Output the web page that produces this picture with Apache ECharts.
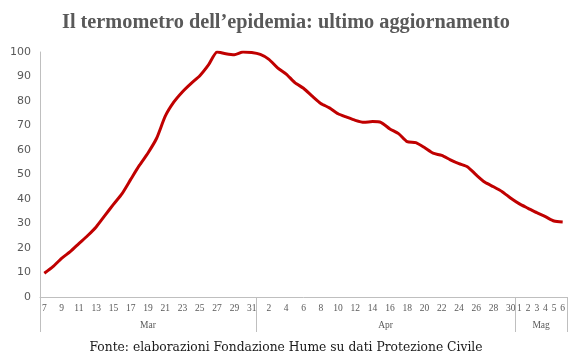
<!DOCTYPE html>
<html>
<head>
<meta charset="utf-8">
<script src="https://cdn.jsdelivr.net/npm/echarts@6/dist/echarts.min.js"></script>
<style>html,body{margin:0;padding:0;background:#fff;}#c{width:572px;height:362px;}</style>
</head>
<body>
<div id="c"></div>
<script>
const dayLabels = ["7","8","9","10","11","12","13","14","15","16","17","18","19","20","21","22","23","24","25","26","27","28","29","30","31",
"1","2","3","4","5","6","7","8","9","10","11","12","13","14","15","16","17","18","19","20","21","22","23","24","25","26","27","28","29","30",
"1","2","3","4","5","6"];
const months = ["Mar","Apr","Mag"];
const monthStart = [0, 25, 55, 61];
const monthMid = [12.5, 40, 58];
const values = [9.7,12.4,15.8,18.5,21.8,25,28.6,33.2,37.8,42.2,48,53.7,58.8,64.8,73.8,79.6,83.8,87.2,90.3,94.7,
100,99.3,98.9,100,99.8,99,97,93.5,91,87.5,85.2,82,79,77.2,74.8,73.4,72.1,71.3,71.6,71.2,
68.6,66.7,63.4,63,61,58.7,57.8,56,54.4,53.1,49.8,46.8,45,43,40.3,38,36.2,34.4,32.8,31,30.6];
const yTicks = [0,10,20,30,40,50,60,70,80,90,100];

const chart = echarts.init(document.getElementById('c'));
chart.setOption({
  animation:false,
  title:[{
    text:"Il termometro dell\u2019epidemia: ultimo aggiornamento",
    left:'center', top:8,
    textStyle:{fontFamily:'Liberation Serif', fontSize:20.3, fontWeight:'bold', color:'#595959'}
  },{
    text:"Fonte: elaborazioni Fondazione Hume su dati Protezione Civile",
    left:'center', top:337,
    textStyle:{fontFamily:'DejaVu Serif', fontSize:12.3, fontWeight:'normal', color:'#1a1a1a'}
  }],
  grid:{left:40, right:5, top:52, bottom:65, containLabel:false},
  xAxis:[{
    type:'category', data:dayLabels, boundaryGap:true,
    axisLine:{lineStyle:{color:'#bfbfbf', width:1}},
    axisTick:{show:false},
    axisLabel:{interval:function(i){return i<55 ? i%2===0 : true;}, fontFamily:'Liberation Serif', fontSize:9.5, color:'#595959', margin:6},
    splitLine:{show:false}
  },{
    type:'value', min:0, max:61, position:'bottom',
    axisLine:{show:false},
    axisTick:{show:true, customValues:monthStart, length:35, lineStyle:{color:'#bfbfbf', width:1}},
    axisLabel:{customValues:monthMid, formatter:function(v){return months[monthMid.indexOf(v)];}, fontFamily:'Liberation Serif', fontSize:9.5, color:'#595959', margin:23},
    splitLine:{show:false}
  }],
  yAxis:{
    type:'value', min:yTicks[0], max:yTicks[yTicks.length-1], interval:10,
    axisLine:{show:true, lineStyle:{color:'#bfbfbf', width:1}},
    axisTick:{show:false},
    splitLine:{show:false},
    axisLabel:{fontFamily:'DejaVu Sans', fontSize:11, color:'#595959', margin:9}
  },
  series:[{
    type:'line', data:values, xAxisIndex:0, symbol:'none', smooth:0.2,
    lineStyle:{color:'#c00000', width:3}
  }]
});
</script>
</body>
</html>
